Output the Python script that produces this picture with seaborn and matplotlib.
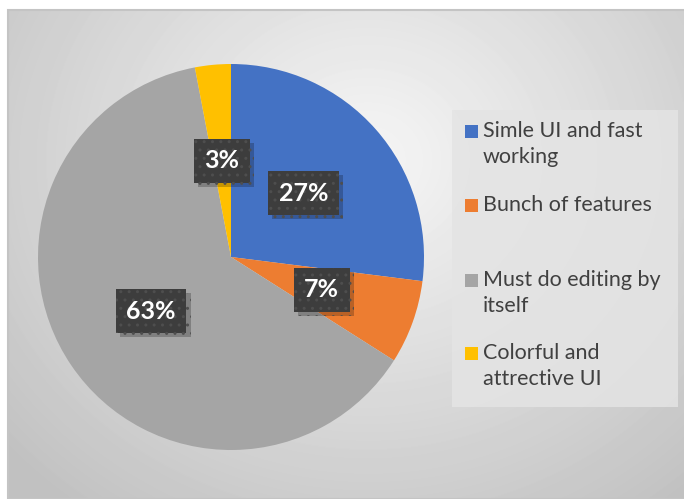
import numpy as np
import seaborn as sns
import matplotlib.pyplot as plt
import matplotlib.patheffects as pe
from matplotlib.patches import Rectangle

# Chart data
categories = ['Simle UI and fast\nworking', 'Bunch of features',
              'Must do editing by\nitself', 'Colorful and\nattrective UI']
shares = [27, 7, 63, 3]
colors = ['#4472c4', '#ed7d31', '#a5a5a5', '#ffc000']

sns.set_theme(style='white')
plt.rcParams['font.family'] = ['Lato', 'DejaVu Sans']

W, H = 684, 499
fig = plt.figure(figsize=(W / 100, H / 100), dpi=100)
fig.patch.set_facecolor('white')

# Gradient background of the chart area
bg = fig.add_axes([8 / W, 0, 1 - 8 / W, 1 - 10 / H])
yy, xx = np.mgrid[0:489, 0:676]
dist = np.sqrt(((xx - 360) / 1.0) ** 2 + ((yy - 150) / 0.9) ** 2)
shade = np.clip(0.965 - dist / 470 * 0.2, 0.76, 0.97)
bg.imshow(shade, cmap='gray', vmin=0, vmax=1, aspect='auto', interpolation='bilinear')
bg.set_axis_off()
fig.add_artist(Rectangle((8 / W, 0), 1, 1 - 10 / H, transform=fig.transFigure,
                         facecolor='none', edgecolor='#c4c4c4', linewidth=1.5))


def px(x, y):
    return x / W, 1 - y / H


# Pie
cx, cy, r = 231, 257, 193
ax = fig.add_axes([(cx - r) / W, (H - cy - r) / H, 2 * r / W, 2 * r / H])
wedges, _, autotexts = ax.pie(shares, colors=colors, startangle=90, counterclock=False,
                              autopct='%d%%', pctdistance=0.5,
                              wedgeprops=dict(linewidth=0))
ax.set_xlim(-1, 1)
ax.set_ylim(-1, 1)
ax.set_axis_off()

for t in autotexts:
    t.set_fontsize(18)
    t.set_fontweight('bold')
    t.set_color('white')
    t.set_zorder(5)
    t.set_bbox(dict(boxstyle='square,pad=0.42', facecolor='#3d3d3d',
                    edgecolor='#4e4e4e', hatch='..', linewidth=0))
    t.get_bbox_patch().set_path_effects(
        [pe.SimplePatchShadow(offset=(3, -3), shadow_rgbFace='black', alpha=0.22), pe.Normal()])

# Legend drawn by hand, Excel-style
lx0, ly0, lx1, ly1 = 452, 110, 678, 407
fig.add_artist(Rectangle(px(lx0, ly1), (lx1 - lx0) / W, (ly1 - ly0) / H,
                         transform=fig.transFigure, facecolor='#e4e4e4',
                         edgecolor='none', alpha=0.85))
tops = [125, 199, 274, 347]
for label, c, top in zip(categories, colors, tops):
    fig.add_artist(Rectangle(px(465, top + 13), 13 / W, 13 / H,
                             transform=fig.transFigure, facecolor=c, edgecolor='none'))
    fig.text(*px(483, top - 4), label, ha='left', va='top', fontsize=15.5,
             color='#404040', linespacing=1.38)

fig.savefig('out.png', dpi=100)
